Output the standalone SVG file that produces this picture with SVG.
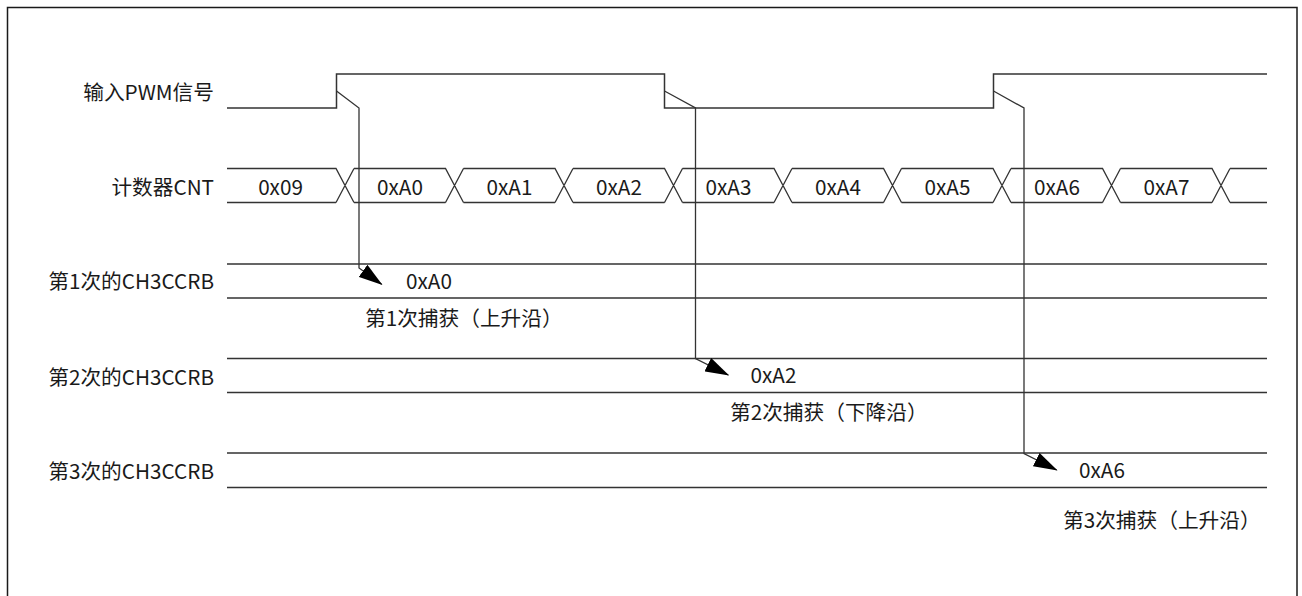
<svg xmlns="http://www.w3.org/2000/svg" width="1302" height="596" viewBox="0 0 1302 596">
<style>
.t{font-family:"Noto Sans CJK SC","Noto Sans",sans-serif;font-size:20.7px;fill:#1a1a1a;dominant-baseline:central}
.l{text-anchor:end}
.m{text-anchor:middle}
.s{text-anchor:start}
.w{fill:none;stroke:#333;stroke-width:1.5}
.c{fill:none;stroke:#333;stroke-width:1.3}
</style>
<defs>
<marker id="ah" markerUnits="userSpaceOnUse" markerWidth="24" markerHeight="15" viewBox="0 0 24 15" refX="23" refY="7.5" orient="auto">
<path d="M0,0 L24,7.5 L0,15 z" fill="#000"/>
</marker>
</defs>
<rect x="7.5" y="7.5" width="1289.5" height="620" fill="#fff" stroke="#1a1a1a" stroke-width="1.5"/>

<g id="pwm">
<text class="t l" x="214" y="91">输入PWM信号</text>
<path class="w" d="M227,108 H336.5 V74 H664.5 V108 H993.5 V74 H1267"/>
</g>

<g id="cnt">
<text class="t l" x="214" y="186">计数器CNT</text>
<path class="c" d="M227,168.5 H336 L354,202.5 M336,202.5 L354,168.5
M354,168.5 H445.5 L463.5,202.5 M445.5,202.5 L463.5,168.5
M227,202.5 H336 M354,202.5 H445.5
M463.5,168.5 H555 L573,202.5 M555,202.5 L573,168.5 M463.5,202.5 H555
M573,168.5 H664.5 L682.5,202.5 M664.5,202.5 L682.5,168.5 M573,202.5 H664.5
M682.5,168.5 H774 L792,202.5 M774,202.5 L792,168.5 M682.5,202.5 H774
M792,168.5 H883.5 L901.5,202.5 M883.5,202.5 L901.5,168.5 M792,202.5 H883.5
M901.5,168.5 H993 L1011,202.5 M993,202.5 L1011,168.5 M901.5,202.5 H993
M1011,168.5 H1102.5 L1120.5,202.5 M1102.5,202.5 L1120.5,168.5 M1011,202.5 H1102.5
M1120.5,168.5 H1212 L1230,202.5 M1212,202.5 L1230,168.5 M1120.5,202.5 H1212
M1230,168.5 H1267 M1230,202.5 H1267"/>
<text class="t m" x="280.5" y="186">0x09</text>
<text class="t m" x="400" y="186">0xA0</text>
<text class="t m" x="509.5" y="186">0xA1</text>
<text class="t m" x="619" y="186">0xA2</text>
<text class="t m" x="728.5" y="186">0xA3</text>
<text class="t m" x="838" y="186">0xA4</text>
<text class="t m" x="947.5" y="186">0xA5</text>
<text class="t m" x="1057" y="186">0xA6</text>
<text class="t m" x="1166.5" y="186">0xA7</text>
</g>

<g id="ccrb1">
<text class="t l" x="214" y="280">第1次的CH3CCRB</text>
<path class="c" d="M227,264 H1267 M227,298 H1267"/>
<text class="t m" x="429" y="280">0xA0</text>
<text class="t s" x="365" y="317">第1次捕获（上升沿）</text>
</g>

<g id="ccrb2">
<text class="t l" x="214" y="375.5">第2次的CH3CCRB</text>
<path class="c" d="M227,358.5 H1267 M227,392.5 H1267"/>
<text class="t m" x="773.5" y="374">0xA2</text>
<text class="t s" x="730" y="411">第2次捕获（下降沿）</text>
</g>

<g id="ccrb3">
<text class="t l" x="214" y="470">第3次的CH3CCRB</text>
<path class="c" d="M227,453 H1267 M227,487.5 H1267"/>
<text class="t m" x="1102" y="469">0xA6</text>
<text class="t s" x="1063" y="519">第3次捕获（上升沿）</text>
</g>

<g id="connectors">
<path class="c" d="M336.5,91 L359,108 V268 L381.7,284.3" marker-end="url(#ah)"/>
<path class="c" d="M664.5,91 L695.5,108 V358.5 L728.3,375" marker-end="url(#ah)"/>
<path class="c" d="M993.5,91 L1024,108 V453.5 L1056.7,470" marker-end="url(#ah)"/>
</g>
</svg>
